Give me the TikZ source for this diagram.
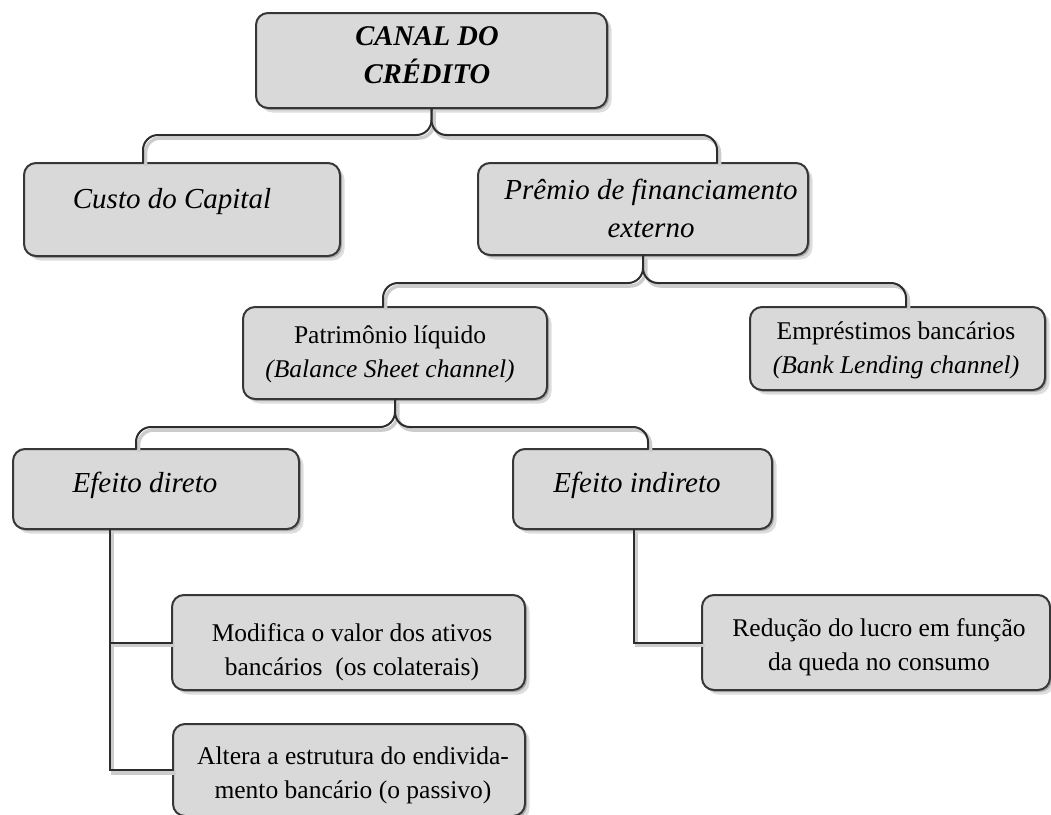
\documentclass[tikz,border=0pt]{standalone}
\usepackage{fontspec}
\setmainfont{Liberation Serif}
\usetikzlibrary{shadows,calc}
\definecolor{boxfill}{RGB}{217,217,217}
\definecolor{boxline}{RGB}{55,55,55}
\definecolor{connline}{RGB}{45,45,45}
\tikzset{
  box/.style={draw=boxline, line width=2pt, fill=boxfill, rounded corners=12pt,
    inner sep=0pt, outer sep=0pt, anchor=north west,
    drop shadow={shadow xshift=2pt,shadow yshift=-2pt,opacity=.40,fill=black!60},
    drop shadow={shadow xshift=4.5pt,shadow yshift=-4.5pt,opacity=.22,fill=black!60}},
  conn/.style={draw=connline, line width=2pt,
    preaction={draw=black!20, line width=3.5pt, transform canvas={xshift=2.5pt,yshift=-3pt}}},
  brace/.style={conn, rounded corners=15pt},
  bigit/.style={font=\fontsize{29}{38}\selectfont\itshape, align=center, inner sep=0pt, anchor=base},
  bigbf/.style={font=\fontsize{28.5}{38}\selectfont\bfseries\itshape, align=center, inner sep=0pt, anchor=base},
  midtx/.style={font=\fontsize{25.5}{34}\selectfont, align=center, inner sep=0pt, anchor=base},
}
\begin{document}
\begin{tikzpicture}[x=1pt,y=-1pt]
\useasboundingbox (0,0) rectangle (1051,814);
% boxes
\node[box, minimum width=351pt, minimum height=95pt] (canal) at (256,13) {};
\node[box, minimum width=316pt, minimum height=93pt] (custo) at (24,163) {};
\node[box, minimum width=330pt, minimum height=92pt] (premio) at (478,163) {};
\node[box, minimum width=304pt, minimum height=92pt] (patrim) at (243,307) {};
\node[box, minimum width=295pt, minimum height=83pt] (empr) at (750,307) {};
\node[box, minimum width=286pt, minimum height=80pt] (edir) at (13,449) {};
\node[box, minimum width=259pt, minimum height=80pt] (eind) at (513,449) {};
\node[box, minimum width=353pt, minimum height=95pt] (modif) at (172,595) {};
\node[box, minimum width=352pt, minimum height=92pt] (altera) at (173,724) {};
\node[box, minimum width=348pt, minimum height=95pt] (reduc) at (702,595) {};
% braces
\coordinate (j1) at (canal.south |- 0,135);
\draw[brace] ([xshift=119pt]custo.north west) |- (j1) -- (canal.south);
\draw[brace] ([xshift=239pt]premio.north west) |- (j1) -- (canal.south);
\coordinate (j2) at (premio.south |- 0,283);
\draw[brace] ([xshift=140pt]patrim.north west) |- (j2) -- (premio.south);
\draw[brace] ([xshift=156pt]empr.north west) |- (j2) -- (premio.south);
\coordinate (j3) at (patrim.south |- 0,427);
\draw[brace] ([xshift=123pt]edir.north west) |- (j3) -- (patrim.south);
\draw[brace] ([xshift=135pt]eind.north west) |- (j3) -- (patrim.south);
% tree lines
\draw[conn] ([xshift=97pt]edir.south west) |- (altera.west);
\draw[conn] ([xshift=97pt]edir.south west |- modif.west) -- (modif.west);
\draw[conn] ([xshift=121pt]eind.south west) |- (reduc.west);
% texts (base = baseline of last line)
\node[bigbf] (canalT) at (427,83) {CANAL DO\\CRÉDITO};
\node[bigit] (custoT) at (172,208) {Custo do Capital};
\node[bigit] (premioT) at (651,237) {Prêmio de financiamento\\externo};
\node[midtx] (patrimT) at (390,377) {Patrimônio líquido\\{\itshape(Balance Sheet channel)}};
\node[midtx] (emprT) at (896,373) {Empréstimos bancários\\{\itshape(Bank Lending channel)}};
\node[bigit] (edirT) at (145,492) {Efeito direto};
\node[bigit] (eindT) at (637,492) {Efeito indireto};
\node[midtx] (modifT) at (352,675) {Modifica o valor dos ativos\\bancários~ (os colaterais)};
\node[midtx] (alteraT) at (353,798) {Altera a estrutura do endivida-\\mento bancário (o passivo)};
\node[midtx] (reducT) at (879,670) {Redução do lucro em função\\da queda no consumo};
\end{tikzpicture}
\end{document}
